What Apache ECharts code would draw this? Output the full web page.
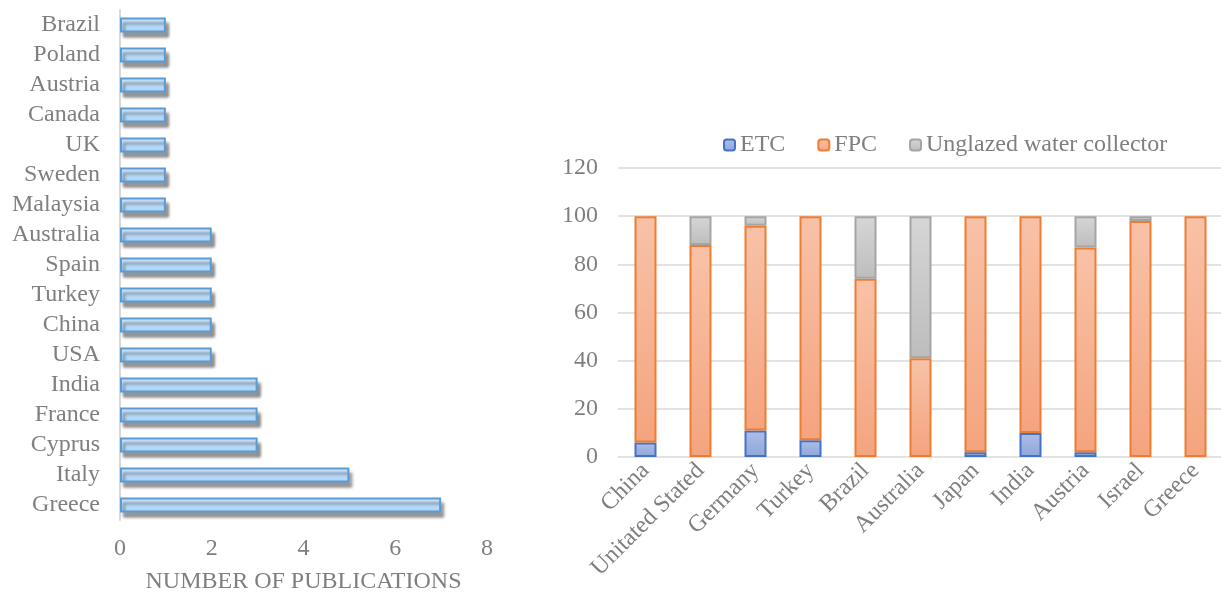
<!DOCTYPE html>
<html>
<head>
<meta charset="utf-8">
<script src="https://cdn.jsdelivr.net/npm/echarts@6/dist/echarts.min.js"></script>
<style>
  html, body { margin: 0; padding: 0; background: #fff; }
  #chart { width: 1221px; height: 597px; }
</style>
</head>
<body>
<div id="chart"></div>
<script>
// Publications per country (left panel), listed bottom to top
const pubCountries = ['Greece', 'Italy', 'Cyprus', 'France', 'India', 'USA', 'China', 'Turkey',
  'Spain', 'Australia', 'Malaysia', 'Sweden', 'UK', 'Canada', 'Austria', 'Poland', 'Brazil'];
const pubCounts = [7, 5, 3, 3, 3, 2, 2, 2, 2, 2, 1, 1, 1, 1, 1, 1, 1];
const pubTicks = [0, 2, 4, 6, 8];

// Collector type share per country (right panel), in percent
const shareCountries = ['China', 'Unitated Stated', 'Germany', 'Turkey', 'Brazil', 'Australia',
  'Japan', 'India', 'Austria', 'Israel', 'Greece'];
const etc = [6, 0, 11, 7, 0, 0, 2, 10, 2, 0, 0];
const fpc = [94, 88, 85, 93, 74, 41, 98, 90, 85, 98, 100];
const unglazed = [0, 12, 4, 0, 26, 59, 0, 0, 13, 2, 0];
const shareTicks = [0, 20, 40, 60, 80, 100, 120];

const FONT = '"Liberation Serif", "Times New Roman", serif';
const TEXT = '#7f7f7f';
const FS = 24;

function grad(top, bottom) {
  return new echarts.graphic.LinearGradient(0, 0, 0, 1, [
    { offset: 0, color: top }, { offset: 1, color: bottom }
  ]);
}
// empty segments are skipped so they draw no outline
const skipZero = arr => arr.map(v => (v === 0 ? '-' : v));

const chart = echarts.init(document.getElementById('chart'), null, { renderer: 'canvas' });

chart.setOption({
  animation: false,
  textStyle: { fontFamily: FONT, color: TEXT },
  legend: {
    left: 718, top: 128,
    itemWidth: 11, itemHeight: 11, itemGap: 32,
    textStyle: { fontFamily: FONT, fontSize: FS, color: TEXT },
    data: ['ETC', 'FPC', 'Unglazed water collector']
  },
  grid: [
    { left: 120, top: 10, width: 367, height: 510, outerBoundsMode: 'none' },
    { left: 618, top: 168, width: 605, height: 289, outerBoundsMode: 'none' }
  ],
  xAxis: [
    {
      gridIndex: 0, type: 'value',
      min: pubTicks[0], max: pubTicks[pubTicks.length - 1], interval: 2,
      axisLine: { show: false }, axisTick: { show: false }, splitLine: { show: false },
      axisLabel: { fontFamily: FONT, fontSize: FS, color: TEXT, margin: 17 },
      name: 'NUMBER OF PUBLICATIONS', nameLocation: 'middle', nameGap: 50,
      nameTextStyle: { fontFamily: FONT, fontSize: FS, color: TEXT }
    },
    {
      gridIndex: 1, type: 'category', data: shareCountries,
      axisLine: { show: false }, axisTick: { show: false },
      axisLabel: { fontFamily: FONT, fontSize: FS, color: TEXT, rotate: 45, margin: 10, interval: 0 }
    }
  ],
  yAxis: [
    {
      gridIndex: 0, type: 'category', data: pubCountries,
      axisLine: { show: true, lineStyle: { color: '#d9d9d9', width: 2 } },
      axisTick: { show: false },
      axisLabel: { fontFamily: FONT, fontSize: FS, color: TEXT, margin: 20, interval: 0 }
    },
    {
      gridIndex: 1, type: 'value',
      min: shareTicks[0], max: shareTicks[shareTicks.length - 1], interval: 20,
      axisLine: { show: false }, axisTick: { show: false },
      splitLine: { lineStyle: { color: '#d9d9d9', width: 1.5 } },
      axisLabel: { fontFamily: FONT, fontSize: FS, color: TEXT, margin: 20 }
    }
  ],
  series: [
    {
      name: 'Publications', type: 'bar', xAxisIndex: 0, yAxisIndex: 0,
      data: pubCounts, barWidth: 15,
      itemStyle: {
        color: grad('#d3e9fd', '#a8d2f8'),
        borderColor: '#5b9bd5', borderWidth: 2,
        shadowColor: 'rgba(0,0,0,0.4)', shadowBlur: 3, shadowOffsetX: 3, shadowOffsetY: 5
      }
    },
    {
      name: 'ETC', type: 'bar', stack: 'share', xAxisIndex: 1, yAxisIndex: 1,
      data: skipZero(etc), barWidth: 22,
      itemStyle: { color: grad('#aebde6', '#8ea7dc'), borderColor: '#4472c4', borderWidth: 2 }
    },
    {
      name: 'FPC', type: 'bar', stack: 'share', xAxisIndex: 1, yAxisIndex: 1,
      data: skipZero(fpc), barWidth: 22,
      itemStyle: { color: grad('#f8c2a8', '#f4a47e'), borderColor: '#ed7d31', borderWidth: 2 }
    },
    {
      name: 'Unglazed water collector', type: 'bar', stack: 'share', xAxisIndex: 1, yAxisIndex: 1,
      data: skipZero(unglazed), barWidth: 22,
      itemStyle: { color: grad('#d6d6d6', '#bdbdbd'), borderColor: '#a5a5a5', borderWidth: 2 }
    }
  ]
});
</script>
</body>
</html>
